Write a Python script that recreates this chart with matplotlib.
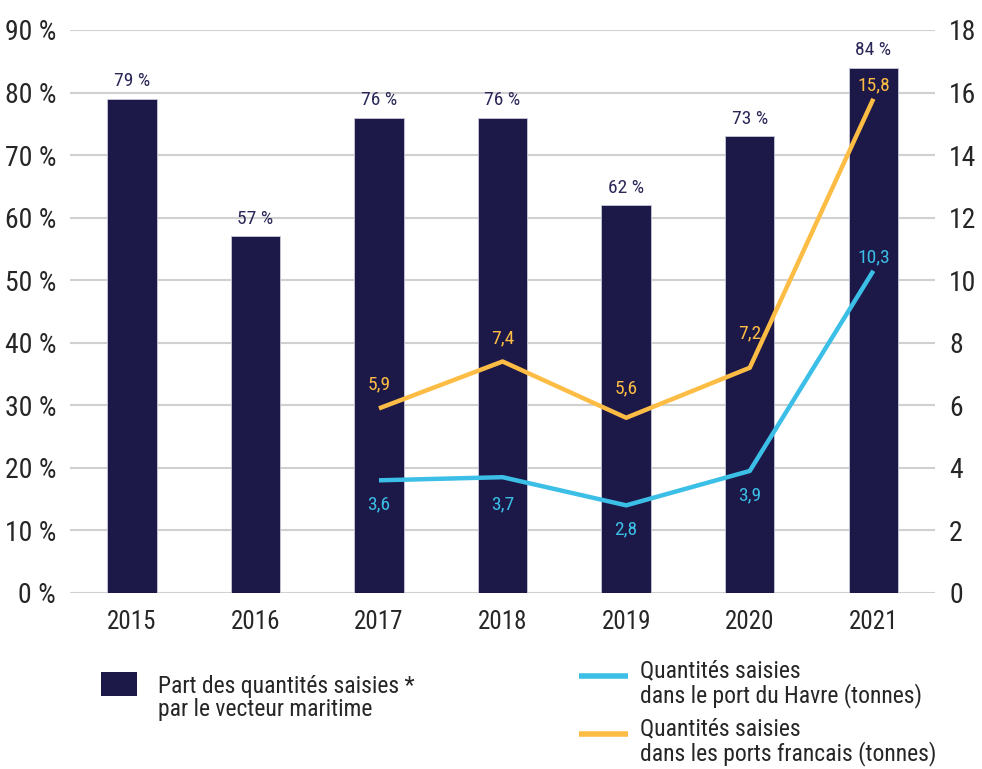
import numpy as np
import matplotlib
matplotlib.use('Agg')
import matplotlib.pyplot as plt
from matplotlib.patches import Patch, Rectangle
from matplotlib.lines import Line2D
from matplotlib.legend_handler import HandlerBase

plt.rcParams['font.family'] = ['Roboto Condensed', 'DejaVu Sans']

years = ['2015', '2016', '2017', '2018', '2019', '2020', '2021']
part_maritime = [79, 57, 76, 76, 62, 73, 84]
havre = [np.nan, np.nan, 3.6, 3.7, 2.8, 3.9, 10.3]
ports_fr = [np.nan, np.nan, 5.9, 7.4, 5.6, 7.2, 15.8]

# label offsets (points) so values sit clear of the lines
off_havre = [0, 0, -17.5, -19.5, -17.5, -17.5, 9.5]
off_ports = [0, 0, 17, 16.5, 21.5, 25, 10]

navy = '#1c1848'
blue = '#3cbfe7'
orange = '#fdbd45'
txt = '#262626'


# legend handles aligned with the first line of a two-line label
class TopHandler(HandlerBase):
    def __init__(self, shift):
        super().__init__()
        self.shift = shift

    def create_artists(self, legend, orig, xdescent, ydescent, width, height, fontsize, trans):
        if isinstance(orig, Line2D):
            y = height / 2 + self.shift
            art = Line2D([-xdescent, -xdescent + width], [y, y], color=orig.get_color(),
                         lw=orig.get_linewidth(), solid_capstyle='butt', transform=trans)
        else:
            art = Rectangle((-xdescent, -ydescent + self.shift), width, height,
                            facecolor=orig.get_facecolor(), edgecolor='none', transform=trans)
        return [art]


fig = plt.figure(figsize=(9.82, 7.69), dpi=100)
ax = fig.add_axes([0.0713, 0.229, 0.881, 0.732])
ax2 = ax.twinx()

x = np.arange(len(years))
ax.bar(x, part_maritime, width=0.4, color=navy, edgecolor='#c8c8d8', linewidth=0.6, zorder=2)
for xi, v in zip(x, part_maritime):
    ax.annotate(f'{v} %', (xi, v), xytext=(0, 12.5), textcoords='offset points',
                ha='center', va='center', fontsize=14, color='#2a2858')

ax.set_xlim(-0.5, 6.5)
ax.set_ylim(0, 90)
ax.set_yticks(range(0, 91, 10))
ax.set_yticklabels([f'{v} %' for v in range(0, 91, 10)])
ax.set_xticks(x)
ax.set_xticklabels(years)
ax.grid(axis='y', color='#d0d0d0', linewidth=1.5, zorder=0)
ax.set_axisbelow(True)
ax.tick_params(axis='both', length=0, labelsize=20, colors=txt)
ax.tick_params(axis='x', pad=12, labelsize=18)
ax.tick_params(axis='y', pad=10)

ax2.plot(x, havre, color=blue, linewidth=3.2, solid_capstyle='butt', zorder=3)
ax2.plot(x, ports_fr, color=orange, linewidth=3.2, solid_capstyle='butt', zorder=3)
for xi, v, dy in zip(x, havre, off_havre):
    if np.isnan(v):
        continue
    ax2.annotate(f'{v:.1f}'.replace('.', ','), (xi, v), xytext=(0, dy), textcoords='offset points',
                 ha='center', va='center', fontsize=14, color=blue)
for xi, v, dy in zip(x, ports_fr, off_ports):
    if np.isnan(v):
        continue
    ax2.annotate(f'{v:.1f}'.replace('.', ','), (xi, v), xytext=(0, dy), textcoords='offset points',
                 ha='center', va='center', fontsize=14, color=orange)
ax2.set_ylim(0, 18)
ax2.set_yticks(range(0, 19, 2))
ax2.tick_params(axis='y', length=0, labelsize=20, colors=txt, pad=10)

for a in (ax, ax2):
    for s in a.spines.values():
        s.set_visible(False)

bar_h = Patch(color=navy)
leg1 = fig.legend([bar_h], ['Part des quantités saisies *\npar le vecteur maritime'],
                  loc='upper left', bbox_to_anchor=(0.103, 0.122), frameon=False, fontsize=17,
                  handlelength=1.5, handleheight=1.15, labelcolor=txt, borderpad=0,
                  borderaxespad=0, handletextpad=0.9, handler_map={bar_h: TopHandler(11)})
l_blue = Line2D([], [], color=blue, lw=4)
l_orange = Line2D([], [], color=orange, lw=4)
leg2 = fig.legend([l_blue, l_orange],
                  ['Quantités saisies\ndans le port du Havre (tonnes)',
                   'Quantités saisies\ndans les ports francais (tonnes)'],
                  loc='upper left', bbox_to_anchor=(0.59, 0.142), frameon=False, fontsize=17,
                  handlelength=2.05, labelcolor=txt, borderpad=0, borderaxespad=0,
                  handletextpad=0.5, labelspacing=0.42,
                  handler_map={l_blue: TopHandler(6), l_orange: TopHandler(6)})
for lg in (leg1, leg2):
    for t in lg.get_texts():
        t.set_linespacing(1.0)

fig.savefig('out.png', dpi=100)
